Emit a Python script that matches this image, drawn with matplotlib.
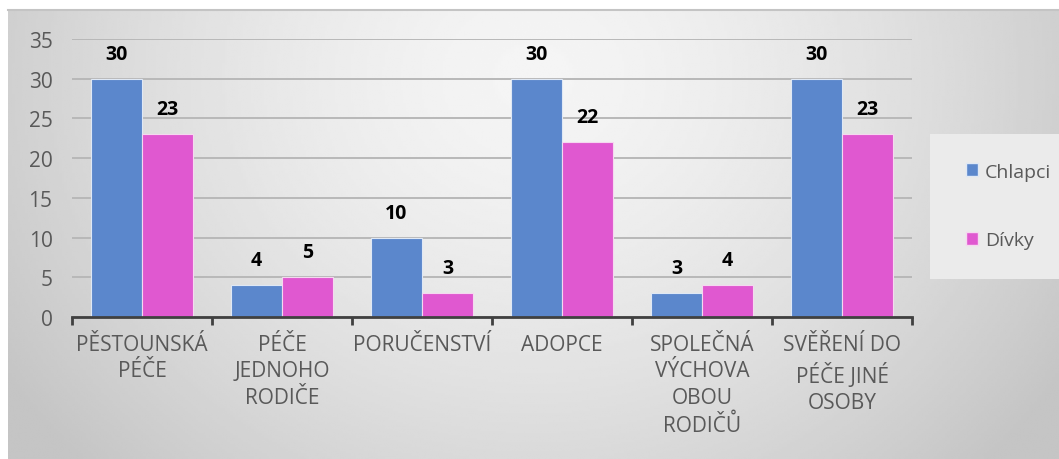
import numpy as np
import matplotlib
matplotlib.use("Agg")
import matplotlib.pyplot as plt
from matplotlib.patches import Patch

categories = ['PĚSTOUNSKÁ\nPÉČE', 'PÉČE\nJEDNOHO\nRODIČE', 'PORUČENSTVÍ',
              'ADOPCE', 'SPOLEČNÁ\nVÝCHOVA\nOBOU\nRODIČŮ', 'SVĚŘENÍ DO\nPÉČE JINÉ\nOSOBY']
chlapci = [30, 4, 10, 30, 3, 30]
divky = [23, 5, 3, 22, 4, 23]
series_names = ['Chlapci', 'Dívky']
yticks = [0, 5, 10, 15, 20, 25, 30, 35]

blue = '#5b87cc'
pink = '#e058d0'
text_gray = '#595959'

plt.rcParams['font.family'] = ['Open Sans', 'DejaVu Sans']

W, H = 1059, 460
fig = plt.figure(figsize=(W / 100, H / 100), dpi=100, facecolor='white')

# gradient panel behind the chart
bg = fig.add_axes([8 / W, 0, 1 - 8 / W, (H - 11) / H], zorder=0)
gx, gy = np.meshgrid(np.linspace(0, 1, 400), np.linspace(0, 1, 200))
dist = np.sqrt(((gx - 0.5) / 0.6) ** 2 + ((gy - 0.15) / 1.25) ** 2)
shade = np.clip(0.96 - 0.19 * dist ** 1.5, 0.77, 0.96)
bg.imshow(shade, cmap='gray', vmin=0, vmax=1, aspect='auto',
          extent=[0, 1, 1, 0], interpolation='bilinear')
bg.set_xlim(0, 1)
bg.set_ylim(1, 0)
bg.set_xticks([])
bg.set_yticks([])
for s in ['left', 'right', 'bottom']:
    bg.spines[s].set_visible(False)
bg.spines['top'].set_color('#c4c4c4')
bg.spines['top'].set_linewidth(1.5)

ax = fig.add_axes([72 / W, 1 - 318 / H, 840 / W, (318 - 40) / H], zorder=2)
ax.set_facecolor('none')

x = np.arange(len(categories))
w = 0.365
b1 = ax.bar(x - w / 2, chlapci, w, color=blue, edgecolor='#dfe8f5', linewidth=0.8,
            label=series_names[0], zorder=3)
b2 = ax.bar(x + w / 2, divky, w, color=pink, edgecolor='#f5d8f0', linewidth=0.8,
            label=series_names[1], zorder=3)

for bars in (b1, b2):
    for r in bars:
        ax.annotate(str(int(r.get_height())),
                    (r.get_x() + r.get_width() / 2, r.get_height()),
                    xytext=(0, 18), textcoords='offset points',
                    ha='center', va='center', fontsize=14, fontweight='bold',
                    color='black', zorder=4)

ax.set_xlim(-0.5, len(categories) - 0.5)
ax.set_ylim(0, 35)
ax.set_yticks(yticks)
ax.set_yticklabels([str(v) for v in yticks], color=text_gray, fontsize=15)
ax.tick_params(axis='y', length=0, pad=14)
ax.yaxis.grid(True, color='#b8b8b8', linewidth=1.4, zorder=1)
ax.set_axisbelow(True)

ax.set_xticks(x)
ax.set_xticklabels(categories, color=text_gray, fontsize=15, linespacing=1.35,
                   ha='center', va='top')
ax.set_xticks(np.arange(-0.5, len(categories)), minor=True)
ax.tick_params(axis='x', which='major', length=0, pad=12)
ax.tick_params(axis='x', which='minor', length=6, width=2, color='#404040')

for s in ['top', 'right', 'left']:
    ax.spines[s].set_visible(False)
ax.spines['bottom'].set_color('#404040')
ax.spines['bottom'].set_linewidth(2)
ax.spines['bottom'].set_zorder(5)

# legend panel
lp = fig.add_axes([930 / W, 1 - 280 / H, (W - 930) / W, 145 / H], zorder=1)
lp.set_facecolor('#ebebeb')
lp.set_xticks([])
lp.set_yticks([])
for s in lp.spines.values():
    s.set_visible(False)

handles = [Patch(facecolor=blue, edgecolor='#dfe8f5', label=series_names[0]),
           Patch(facecolor=pink, edgecolor='#f5d8f0', label=series_names[1])]
leg = fig.legend(handles=handles, loc='center left',
                 bbox_to_anchor=(948 / W, 1 - 207 / H), frameon=False,
                 fontsize=14, labelspacing=2.6, handlelength=0.65, handleheight=0.65,
                 handletextpad=0.35)
for t in leg.get_texts():
    t.set_color(text_gray)
leg.set_zorder(6)

fig.savefig('out.png', dpi=100, facecolor='white')
